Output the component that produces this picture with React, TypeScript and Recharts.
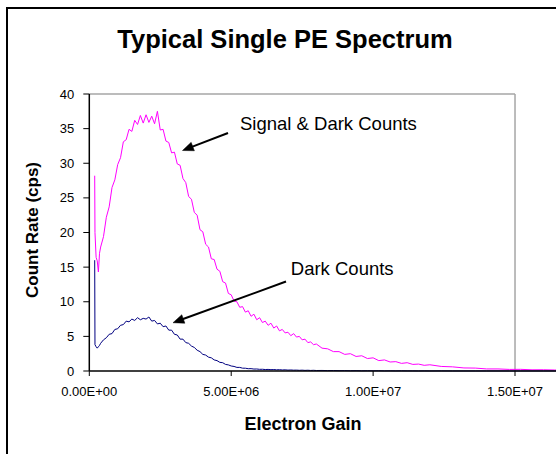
import React from 'react';
import { LineChart, Line, XAxis, YAxis, ReferenceLine } from 'recharts';

const GAIN = [
  190000, 200000, 240000, 280000, 320000, 360000,
  400000, 500000, 600000, 700000, 800000, 900000, 1000000, 1100000, 1200000, 1300000,
  1400000, 1500000, 1600000, 1700000, 1800000, 1900000, 2000000, 2100000, 2200000, 2300000,
  2400000, 2500000, 2600000, 2700000, 2800000, 2900000, 3000000, 3100000, 3200000, 3300000,
  3400000, 3500000, 3600000, 3700000, 3800000, 3900000, 4000000, 4100000, 4200000, 4300000,
  4400000, 4500000, 4600000, 4700000, 4800000, 4900000, 5000000, 5100000, 5200000, 5300000,
  5400000, 5500000, 5600000, 5700000, 5800000, 5900000, 6000000, 6100000, 6200000, 6300000,
  6400000, 6500000, 6600000, 6700000, 6800000, 6900000, 7000000, 7100000, 7200000, 7300000,
  7400000, 7500000, 7600000, 7700000, 7800000, 7900000, 8000000,
  8200000, 8400000, 8600000, 8800000, 9000000, 9200000, 9400000, 9600000, 9800000, 10000000,
  10200000, 10400000, 10600000, 10800000, 11000000, 11200000, 11400000, 11600000, 11800000, 12000000,
  12400000, 12800000, 13200000, 13600000, 14000000, 14400000, 14800000, 15200000, 15600000, 16000000,
  16400000, 16800000,
];

const SIGNAL_AND_DARK = [
  28.2, 20.0, 16.4, 15.9, 14.3, 17.0,
  17.9, 19.4, 22.2, 23.7, 26.5, 27.6, 29.8, 30.8, 33.1, 33.4,
  34.9, 34.6, 36.2, 35.6, 36.9, 35.8, 37.0, 35.9, 36.8, 35.7,
  37.5, 34.8, 34.9, 33.2, 33.0, 31.5, 31.6, 29.9, 29.7, 27.8,
  27.2, 25.2, 24.8, 22.9, 22.5, 20.4, 20.1, 18.3, 17.9, 16.2,
  16.1, 14.7, 14.4, 12.9, 12.7, 11.2, 11.0, 10.1, 10.0, 9.2,
  9.3, 8.5, 8.7, 7.9, 8.2, 7.4, 7.7, 7.0, 7.2, 6.6,
  6.9, 6.2, 6.5, 5.8, 6.0, 5.5, 5.6, 5.1, 5.4, 4.9,
  5.0, 4.5, 4.6, 4.1, 4.2, 3.8, 3.9,
  3.3, 3.2, 2.8, 2.8, 2.4, 2.5, 2.1, 2.2, 1.8, 1.9,
  1.5, 1.6, 1.3, 1.35, 1.1, 1.2, 0.95, 1.0, 0.82, 0.9,
  0.66, 0.6, 0.44, 0.42, 0.3, 0.3, 0.23, 0.24, 0.17, 0.18,
  0.14, 0.15,
];

const DARK = [
  16.0, 3.8, 3.5, 3.3, 3.5, 3.7,
  4.0, 4.5, 4.8, 5.3, 5.4, 6.0, 6.1, 6.6, 6.7, 7.2,
  7.1, 7.5, 7.3, 7.7, 7.4, 7.6, 7.5, 7.8, 7.2, 7.3,
  6.8, 6.9, 6.4, 6.5, 5.9, 5.9, 5.3, 5.2, 4.6, 4.6,
  4.1, 4.0, 3.6, 3.4, 3.0, 2.8, 2.4, 2.3, 2.0, 1.9,
  1.6, 1.5, 1.25, 1.2, 0.95, 0.88, 0.72, 0.66, 0.52, 0.52,
  0.41, 0.4, 0.33, 0.34, 0.28, 0.29, 0.24, 0.25, 0.21, 0.23,
  0.19, 0.21, 0.17, 0.19, 0.15, 0.17, 0.13, 0.15, 0.12, 0.13,
  0.1, 0.12, 0.09, 0.11, 0.08, 0.1, 0.07,
  0.08, 0.06, 0.07, 0.05, 0.06, 0.04, 0.05, 0.03, 0.04, 0.03,
  0.04, 0.02, 0.03, 0.02, 0.03, 0.02, 0.02, 0.01, 0.02, 0.01,
  0.02, 0.01, 0.01, 0.01, 0.01, 0.01, 0.01, 0.01, 0.01, 0.01,
  0.01, 0.01,
];

const X_TICKS = [0, 5000000, 10000000, 15000000];
const X_TICK_LABELS = ['0.00E+00', '5.00E+06', '1.00E+07', '1.50E+07'];
const Y_TICKS = [0, 5, 10, 15, 20, 25, 30, 35, 40];

const TITLE = 'Typical Single PE Spectrum';
const X_TITLE = 'Electron Gain';
const Y_TITLE = 'Count Rate (cps)';

const ARROW_SIGNAL = [{ x: 4887000, y: 34.37 }, { x: 3284000, y: 31.84 }];
const ARROW_DARK = [{ x: 6931000, y: 12.92 }, { x: 2949000, y: 6.97 }];
const LABEL_SIGNAL = { x: 5310000, y: 34.73, text: 'Signal & Dark Counts' };
const LABEL_DARK = { x: 7100000, y: 13.86, text: 'Dark Counts' };

const FONT = '"Liberation Sans", Arial, Helvetica, sans-serif';

const data = GAIN.map((g, i) => ({ gain: g, signal: SIGNAL_AND_DARK[i], dark: DARK[i] }));

const arrowShape = (props: any) => {
  const { x1, y1, x2, y2 } = props;
  const dx = x2 - x1;
  const dy = y2 - y1;
  const len = Math.sqrt(dx * dx + dy * dy) || 1;
  const ux = dx / len;
  const uy = dy / len;
  const headLen = 11;
  const halfW = 4.5;
  const bx = x2 - ux * headLen;
  const by = y2 - uy * headLen;
  const px = -uy;
  const py = ux;
  const pts = `${x2},${y2} ${bx + px * halfW},${by + py * halfW} ${bx - px * halfW},${by - py * halfW}`;
  return (
    <g>
      <line x1={x1} y1={y1} x2={bx + ux * 1} y2={by + uy * 1} stroke="#000" strokeWidth={2} />
      <polygon points={pts} fill="#000" stroke="#000" strokeWidth={0.5} />
    </g>
  );
};

const textShape = (text: string) => (props: any) => (
  <text x={props.x1} y={props.y1} fontFamily={FONT} fontSize={18.5} fill="#000">
    {text}
  </text>
);

export default function App() {
  return (
    <div
      style={{
        position: 'absolute',
        left: 0,
        top: 0,
        width: 556,
        height: 454,
        overflow: 'hidden',
        background: '#fff',
      }}
    >
      <div
        style={{
          position: 'absolute',
          left: 6,
          top: 7,
          width: 700,
          height: 600,
          border: '2px solid #000',
          boxSizing: 'border-box',
        }}
      />
      <div style={{ position: 'absolute', left: 0, top: 0 }}>
        <LineChart
          width={600}
          height={454}
          data={data}
          margin={{ top: 94, right: 33.9, bottom: 53, left: 0.3 }}
        >
          <XAxis
            dataKey="gain"
            type="number"
            domain={[0, 16800000]}
            ticks={X_TICKS}
            tickFormatter={(v: number) => X_TICK_LABELS[X_TICKS.indexOf(v)]}
            height={30}
            axisLine={{ stroke: '#000', strokeWidth: 1.5 }}
            tickLine={{ stroke: '#000', strokeWidth: 1 }}
            tickSize={5}
            tickMargin={11}
            tick={{ fill: '#000', fontSize: 13, fontFamily: FONT }}
          />
          <YAxis
            type="number"
            domain={[0, 40]}
            ticks={Y_TICKS}
            width={89}
            axisLine={{ stroke: '#000', strokeWidth: 1.5 }}
            tickLine={{ stroke: '#000', strokeWidth: 1 }}
            tickSize={6}
            tickMargin={9}
            tick={{ fill: '#000', fontSize: 13, fontFamily: FONT }}
            interval={0}
          />
          <ReferenceLine
            segment={[{ x: 0, y: 40 }, { x: 15000000, y: 40 }]}
            stroke="#a6a6a6"
            strokeWidth={1.5}
          />
          <ReferenceLine x={15000000} stroke="#a6a6a6" strokeWidth={1.5} />
          <Line
            type="linear"
            dataKey="signal"
            stroke="#ff00ff"
            strokeWidth={1}
            dot={false}
            isAnimationActive={false}
          />
          <Line
            type="linear"
            dataKey="dark"
            stroke="#000080"
            strokeWidth={1}
            dot={false}
            isAnimationActive={false}
          />
          <ReferenceLine segment={ARROW_SIGNAL} shape={arrowShape} />
          <ReferenceLine segment={ARROW_DARK} shape={arrowShape} />
          <ReferenceLine
            segment={[{ x: LABEL_SIGNAL.x, y: LABEL_SIGNAL.y }, { x: LABEL_SIGNAL.x, y: LABEL_SIGNAL.y }]}
            shape={textShape(LABEL_SIGNAL.text)}
          />
          <ReferenceLine
            segment={[{ x: LABEL_DARK.x, y: LABEL_DARK.y }, { x: LABEL_DARK.x, y: LABEL_DARK.y }]}
            shape={textShape(LABEL_DARK.text)}
          />
        </LineChart>
      </div>
      <svg
        width={556}
        height={454}
        style={{ position: 'absolute', left: 0, top: 0, pointerEvents: 'none' }}
      >
        <text x={285} y={48} textAnchor="middle" fontFamily={FONT} fontWeight="bold" fontSize={25.5} fill="#000">
          {TITLE}
        </text>
        <text x={303} y={429.5} textAnchor="middle" fontFamily={FONT} fontWeight="bold" fontSize={18} fill="#000">
          {X_TITLE}
        </text>
        <text
          x={38}
          y={230}
          textAnchor="middle"
          fontFamily={FONT}
          fontWeight="bold"
          fontSize={17}
          fill="#000"
          transform="rotate(-90 38 230)"
        >
          {Y_TITLE}
        </text>
      </svg>
    </div>
  );
}
